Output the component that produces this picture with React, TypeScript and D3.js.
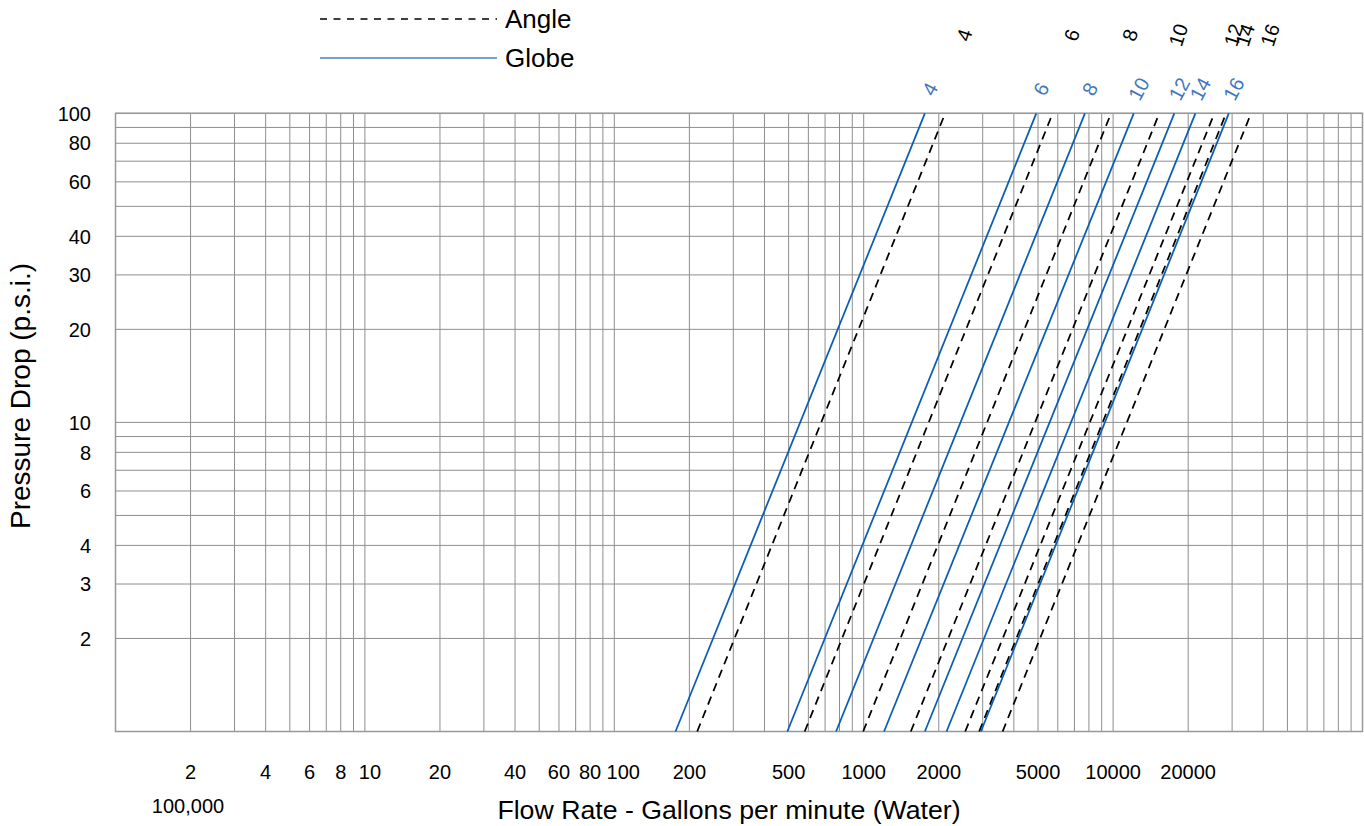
import React, { useEffect, useRef } from "react";
import * as d3 from "d3";

// valve sizes (inches)
const SIZES = ["4", "6", "8", "10", "12", "14", "16"];
// flow (gpm) at 1 psi and at 100 psi
const GLOBE_Q1 = [176, 494, 775, 1207, 1759, 2149, 2951];
const GLOBE_Q100 = [1759, 4920, 7710, 12100, 17600, 21380, 29100];
const ANGLE_Q1 = [215, 580, 995, 1545, 2553, 2904, 3606];
const ANGLE_Q100 = [2122, 5726, 9813, 15320, 25480, 28390, 35750];

const X_TICKS = [2, 4, 6, 8, 10, 20, 40, 60, 80, 100, 200, 500, 1000, 2000, 5000, 10000, 20000];
const Y_TICKS = [2, 3, 4, 6, 8, 10, 20, 30, 40, 60, 80, 100];

const WIDTH = 1364;
const HEIGHT = 826;
const PLOT = { left: 115.5, right: 1362.5, top: 113.3, bottom: 731.5 };
const FONT = "'Liberation Sans', Arial, sans-serif";
const BLUE = "#0b5db3";
const BLUE_TEXT = "#4577bd";
const GRID = "#8e8e8e";

const X_SCALE = d3.scaleLog().domain([1, 100000]).range([PLOT.left, PLOT.right]);
const Y_SCALE = d3.scaleLog().domain([1, 100]).range([PLOT.bottom, PLOT.top]);
const LINE = d3
  .line<{ q: number; p: number }>()
  .x((d) => X_SCALE(d.q))
  .y((d) => Y_SCALE(d.p));

const minorValues = (from: number, to: number) => {
  const vals: number[] = [];
  for (let k = from; k < to; k++)
    for (let m = 1; m <= 9; m++) vals.push(m * Math.pow(10, k));
  vals.push(Math.pow(10, to));
  return vals;
};

// the decade labels sit a little right of their gridline so they clear the 8 / 80 labels
const labelShift = (v: number) => (v === 10 ? 5 : v === 100 ? 9 : 0);

export default function App() {
  const ref = useRef<SVGSVGElement>(null);

  useEffect(() => {
    const svg = d3.select(ref.current);
    svg.selectAll("*").remove();

    // grid
    const grid = svg.append("g").attr("stroke", GRID).attr("stroke-width", 1);
    minorValues(0, 5).forEach((v) => {
      grid
        .append("line")
        .attr("x1", X_SCALE(v))
        .attr("x2", X_SCALE(v))
        .attr("y1", PLOT.top)
        .attr("y2", PLOT.bottom);
    });
    minorValues(0, 2).forEach((v) => {
      grid
        .append("line")
        .attr("x1", PLOT.left)
        .attr("x2", PLOT.right)
        .attr("y1", Y_SCALE(v))
        .attr("y2", Y_SCALE(v));
    });
    svg
      .append("rect")
      .attr("x", PLOT.left)
      .attr("y", PLOT.top)
      .attr("width", PLOT.right - PLOT.left)
      .attr("height", PLOT.bottom - PLOT.top)
      .attr("fill", "none")
      .attr("stroke", "#999")
      .attr("stroke-width", 1.5);

    // tick labels
    svg
      .append("g")
      .selectAll("text")
      .data(Y_TICKS)
      .join("text")
      .attr("x", 91)
      .attr("y", (d) => Y_SCALE(d))
      .attr("dy", "0.36em")
      .attr("text-anchor", "end")
      .attr("font-size", 20)
      .attr("font-family", FONT)
      .text((d) => d);
    svg
      .append("g")
      .selectAll("text")
      .data(X_TICKS)
      .join("text")
      .attr("x", (d) => X_SCALE(d) + labelShift(d))
      .attr("y", 779)
      .attr("text-anchor", "middle")
      .attr("font-size", 20)
      .attr("font-family", FONT)
      .text((d) => d);
    svg
      .append("text")
      .attr("x", 188)
      .attr("y", 813)
      .attr("text-anchor", "middle")
      .attr("font-size", 20)
      .attr("font-family", FONT)
      .text("100,000");

    // axis titles
    svg
      .append("text")
      .attr("x", 729)
      .attr("y", 819)
      .attr("text-anchor", "middle")
      .attr("font-size", 26.7)
      .attr("font-family", FONT)
      .text("Flow Rate - Gallons per minute (Water)");
    svg
      .append("text")
      .attr("transform", "translate(30,396) rotate(-90)")
      .attr("text-anchor", "middle")
      .attr("font-size", 28)
      .attr("font-family", FONT)
      .text("Pressure Drop (p.s.i.)");

    // series
    const lines = svg.append("g").attr("fill", "none");
    SIZES.forEach((s, i) => {
      lines
        .append("path")
        .attr("d", LINE([{ q: GLOBE_Q1[i], p: 1 }, { q: GLOBE_Q100[i], p: 100 }]))
        .attr("stroke", BLUE)
        .attr("stroke-width", 1.75);
      lines
        .append("path")
        .attr("d", LINE([{ q: ANGLE_Q1[i], p: 1 }, { q: ANGLE_Q100[i], p: 100 }]))
        .attr("stroke", "#000")
        .attr("stroke-width", 1.75)
        .attr("stroke-dasharray", "8.5,6");

      const bx = X_SCALE(GLOBE_Q100[i]) + 5;
      svg
        .append("text")
        .attr("transform", `translate(${bx},89) rotate(-62)`)
        .attr("text-anchor", "middle")
        .attr("dy", "0.35em")
        .attr("font-size", 20)
        .attr("font-family", FONT)
        .attr("fill", BLUE_TEXT)
        .text(s);
      const ax = X_SCALE(ANGLE_Q100[i]) + 19;
      svg
        .append("text")
        .attr("transform", `translate(${ax},35) rotate(-72)`)
        .attr("text-anchor", "middle")
        .attr("dy", "0.35em")
        .attr("font-size", 20)
        .attr("font-family", FONT)
        .attr("fill", "#000")
        .text(s);
    });

    // legend
    const legend = svg.append("g");
    legend
      .append("line")
      .attr("x1", 320)
      .attr("x2", 497)
      .attr("y1", 19)
      .attr("y2", 19)
      .attr("stroke", "#000")
      .attr("stroke-width", 1.5)
      .attr("stroke-dasharray", "7,6.5");
    legend
      .append("text")
      .attr("x", 505)
      .attr("y", 28)
      .attr("font-size", 26)
      .attr("font-family", FONT)
      .text("Angle");
    legend
      .append("line")
      .attr("x1", 320)
      .attr("x2", 497)
      .attr("y1", 58)
      .attr("y2", 58)
      .attr("stroke", "#4f81bd")
      .attr("stroke-width", 1.5);
    legend
      .append("text")
      .attr("x", 505)
      .attr("y", 67)
      .attr("font-size", 26)
      .attr("font-family", FONT)
      .text("Globe");
  }, []);

  return (
    <svg
      ref={ref}
      width={WIDTH}
      height={HEIGHT}
      style={{ position: "absolute", left: 0, top: 0, background: "#fff" }}
    />
  );
}
